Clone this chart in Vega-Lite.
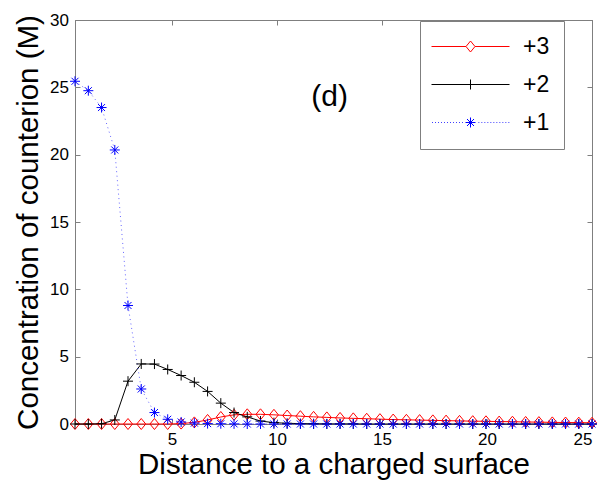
{
  "$schema": "https://vega.github.io/schema/vega-lite/v6.json",
  "width": 517,
  "height": 404,
  "autosize": {"type": "none"},
  "padding": {"left": 75, "top": 20, "right": 13, "bottom": 59},
  "background": "white",
  "config": {
    "font": "Liberation Sans",
    "view": {"stroke": "#7f7f7f"},
    "axis": {"domainColor": "#7f7f7f", "tickColor": "#7f7f7f", "grid": false, "labelColor": "black", "titleColor": "black", "labelFont": "Liberation Sans", "titleFont": "Liberation Sans", "titleFontWeight": "normal", "labelFontSize": 17, "titleFontSize": 29.5, "tickSize": -5},
    "legend": {"orient": "none", "legendX": 345, "legendY": 1, "title": null, "padding": 14, "fillColor": "white", "strokeColor": "#7f7f7f", "symbolSize": 100, "symbolStrokeWidth": 1, "symbolOpacity": 1, "labelFontSize": 23, "labelFont": "Liberation Sans", "labelColor": "black", "labelOffset": 66, "rowPadding": 14}
  },
  "data": {"values": [
    {"x":0.375,"s":"+3","v":0},{"x":1.01,"s":"+3","v":0},{"x":1.64,"s":"+3","v":0},{"x":2.27,"s":"+3","v":0},{"x":2.90,"s":"+3","v":0},{"x":3.53,"s":"+3","v":0},{"x":4.16,"s":"+3","v":0},{"x":4.79,"s":"+3","v":0},{"x":5.43,"s":"+3","v":0.03},{"x":6.06,"s":"+3","v":0.12},{"x":6.69,"s":"+3","v":0.3},{"x":7.32,"s":"+3","v":0.52},{"x":7.95,"s":"+3","v":0.68},{"x":8.58,"s":"+3","v":0.72},{"x":9.21,"s":"+3","v":0.72},{"x":9.85,"s":"+3","v":0.68},{"x":10.48,"s":"+3","v":0.63},{"x":11.11,"s":"+3","v":0.58},{"x":11.74,"s":"+3","v":0.53},{"x":12.37,"s":"+3","v":0.49},{"x":13.00,"s":"+3","v":0.45},{"x":13.63,"s":"+3","v":0.42},{"x":14.27,"s":"+3","v":0.39},{"x":14.90,"s":"+3","v":0.36},{"x":15.53,"s":"+3","v":0.33},{"x":16.16,"s":"+3","v":0.31},{"x":16.79,"s":"+3","v":0.29},{"x":17.42,"s":"+3","v":0.27},{"x":18.05,"s":"+3","v":0.25},{"x":18.69,"s":"+3","v":0.23},{"x":19.32,"s":"+3","v":0.21},{"x":19.95,"s":"+3","v":0.2},{"x":20.58,"s":"+3","v":0.18},{"x":21.21,"s":"+3","v":0.17},{"x":21.84,"s":"+3","v":0.15},{"x":22.47,"s":"+3","v":0.14},{"x":23.11,"s":"+3","v":0.12},{"x":23.74,"s":"+3","v":0.11},{"x":24.37,"s":"+3","v":0.1},{"x":25.00,"s":"+3","v":0.09},
    {"x":0.375,"s":"+2","v":0},{"x":1.01,"s":"+2","v":0},{"x":1.64,"s":"+2","v":0.02},{"x":2.27,"s":"+2","v":0.3},{"x":2.90,"s":"+2","v":3.18},{"x":3.53,"s":"+2","v":4.46},{"x":4.16,"s":"+2","v":4.45},{"x":4.79,"s":"+2","v":4.05},{"x":5.43,"s":"+2","v":3.6},{"x":6.06,"s":"+2","v":3.1},{"x":6.69,"s":"+2","v":2.42},{"x":7.32,"s":"+2","v":1.55},{"x":7.95,"s":"+2","v":0.85},{"x":8.58,"s":"+2","v":0.53},{"x":9.21,"s":"+2","v":0.22},{"x":9.85,"s":"+2","v":0.1},{"x":10.48,"s":"+2","v":0.05},{"x":11.11,"s":"+2","v":0.03},{"x":11.74,"s":"+2","v":0.02},{"x":12.37,"s":"+2","v":0.01},{"x":13.00,"s":"+2","v":0.01},{"x":13.63,"s":"+2","v":0.01},{"x":14.27,"s":"+2","v":0},{"x":14.90,"s":"+2","v":0},{"x":15.53,"s":"+2","v":0},{"x":16.16,"s":"+2","v":0},{"x":16.79,"s":"+2","v":0},{"x":17.42,"s":"+2","v":0},{"x":18.05,"s":"+2","v":0},{"x":18.69,"s":"+2","v":0},{"x":19.32,"s":"+2","v":0},{"x":19.95,"s":"+2","v":0},{"x":20.58,"s":"+2","v":0},{"x":21.21,"s":"+2","v":0},{"x":21.84,"s":"+2","v":0},{"x":22.47,"s":"+2","v":0},{"x":23.11,"s":"+2","v":0},{"x":23.74,"s":"+2","v":0},{"x":24.37,"s":"+2","v":0},{"x":25.00,"s":"+2","v":0},
    {"x":0.375,"s":"+1","v":25.45},{"x":1.01,"s":"+1","v":24.75},{"x":1.64,"s":"+1","v":23.5},{"x":2.27,"s":"+1","v":20.35},{"x":2.90,"s":"+1","v":8.8},{"x":3.53,"s":"+1","v":2.6},{"x":4.16,"s":"+1","v":0.85},{"x":4.79,"s":"+1","v":0.35},{"x":5.43,"s":"+1","v":0.15},{"x":6.06,"s":"+1","v":0.07},{"x":6.69,"s":"+1","v":0.03},{"x":7.32,"s":"+1","v":0.02},{"x":7.95,"s":"+1","v":0.01},{"x":8.58,"s":"+1","v":0},{"x":9.21,"s":"+1","v":0},{"x":9.85,"s":"+1","v":0},{"x":10.48,"s":"+1","v":0},{"x":11.11,"s":"+1","v":0},{"x":11.74,"s":"+1","v":0},{"x":12.37,"s":"+1","v":0},{"x":13.00,"s":"+1","v":0},{"x":13.63,"s":"+1","v":0},{"x":14.27,"s":"+1","v":0},{"x":14.90,"s":"+1","v":0},{"x":15.53,"s":"+1","v":0},{"x":16.16,"s":"+1","v":0},{"x":16.79,"s":"+1","v":0},{"x":17.42,"s":"+1","v":0},{"x":18.05,"s":"+1","v":0},{"x":18.69,"s":"+1","v":0},{"x":19.32,"s":"+1","v":0},{"x":19.95,"s":"+1","v":0},{"x":20.58,"s":"+1","v":0},{"x":21.21,"s":"+1","v":0},{"x":21.84,"s":"+1","v":0},{"x":22.47,"s":"+1","v":0},{"x":23.11,"s":"+1","v":0},{"x":23.74,"s":"+1","v":0},{"x":24.37,"s":"+1","v":0},{"x":25.00,"s":"+1","v":0}
  ]},
  "layer": [
    {
      "transform": [{"filter": "datum.s === '+3'"}],
      "mark": {"type": "line", "strokeWidth": 1, "color": "#ff0000"},
      "encoding": {
        "x": {"field": "x", "type": "quantitative", "scale": {"domain": [0.375, 25], "nice": false, "zero": false},
              "axis": {"orient": "bottom", "values": [5, 10, 15, 20, 25], "title": "Distance to a charged surface", "labelPadding": 12.5, "titlePadding": 3}},
        "y": {"field": "v", "type": "quantitative", "scale": {"domain": [0, 30], "nice": false},
              "axis": {"orient": "left", "values": [0, 5, 10, 15, 20, 25, 30], "title": "Concentration of counterion (M)", "labelPadding": 11.5, "titlePadding": 6}},
        "order": {"field": "x", "type": "quantitative"}
      }
    },
    {
      "transform": [{"filter": "datum.s === '+2'"}],
      "mark": {"type": "line", "strokeWidth": 1, "color": "#000000"},
      "encoding": {
        "x": {"field": "x", "type": "quantitative", "axis": null},
        "y": {"field": "v", "type": "quantitative", "axis": null},
        "order": {"field": "x", "type": "quantitative"}
      }
    },
    {
      "transform": [{"filter": "datum.s === '+1'"}],
      "mark": {"type": "line", "strokeWidth": 1, "color": "#0000ff", "strokeDash": [1, 3.5], "opacity": 0.6},
      "encoding": {
        "x": {"field": "x", "type": "quantitative", "axis": null},
        "y": {"field": "v", "type": "quantitative", "axis": null},
        "order": {"field": "x", "type": "quantitative"}
      }
    },
    {
      "transform": [{"filter": "datum.s === '+3'"}],
      "mark": {"type": "point", "filled": false, "size": 100, "strokeWidth": 1, "opacity": 1, "color": "#ff0000", "shape": "M0,-1.1L0.9,0L0,1.1L-0.9,0Z"},
      "encoding": {
        "x": {"field": "x", "type": "quantitative", "axis": null},
        "y": {"field": "v", "type": "quantitative", "axis": null}
      }
    },
    {
      "transform": [{"filter": "datum.s === '+2'"}],
      "mark": {"type": "point", "filled": false, "size": 100, "strokeWidth": 1, "opacity": 1, "color": "#000000", "shape": "M-1,0L1,0M0,-1L0,1"},
      "encoding": {
        "x": {"field": "x", "type": "quantitative", "axis": null},
        "y": {"field": "v", "type": "quantitative", "axis": null}
      }
    },
    {
      "transform": [{"filter": "datum.s === '+1'"}],
      "mark": {"type": "point", "filled": false, "size": 100, "strokeWidth": 1, "opacity": 1, "color": "#0000ff", "shape": "M-1,0L1,0M0,-1L0,1M-0.7,-0.7L0.7,0.7M-0.7,0.7L0.7,-0.7"},
      "encoding": {
        "x": {"field": "x", "type": "quantitative", "axis": null},
        "y": {"field": "v", "type": "quantitative", "axis": null}
      }
    },
    {
      "mark": {"type": "point", "filled": false, "size": 100, "strokeWidth": 1, "opacity": 0},
      "encoding": {
        "x": {"field": "x", "type": "quantitative", "axis": {"orient": "top", "values": [5, 10, 15, 20, 25], "labels": false, "title": null}},
        "y": {"field": "v", "type": "quantitative", "axis": {"orient": "right", "values": [0, 5, 10, 15, 20, 25, 30], "labels": false, "title": null}},
        "color": {"field": "s", "type": "nominal", "scale": {"domain": ["+3", "+2", "+1"], "range": ["#ff0000", "#000000", "#0000ff"]}, "legend": {"labelExpr": "datum.label + '    '"}},
        "shape": {"field": "s", "type": "nominal", "scale": {"domain": ["+3", "+2", "+1"], "range": ["M-2.8,0L4.1,0M5.9,0L12.8,0M5,-1.1L5.9,0L5,1.1L4.1,0Z", "M-2.8,0L12.8,0M5,-1L5,1", "M-2.7,0L-2.55,0M-2.1,0L-1.95,0M-1.5,0L-1.35,0M-0.9,0L-0.75,0M-0.3,0L-0.15,0M0.3,0L0.45,0M0.9,0L1.05,0M1.5,0L1.65,0M2.1,0L2.25,0M2.7,0L2.85,0M3.3,0L3.45,0M6.6,0L6.75,0M7.2,0L7.35,0M7.8,0L7.95,0M8.4,0L8.55,0M9,0L9.15,0M9.6,0L9.75,0M10.2,0L10.35,0M10.8,0L10.95,0M11.4,0L11.55,0M12,0L12.15,0M12.6,0L12.75,0M4,0L6,0M5,-1L5,1M4.3,-0.7L5.7,0.7M4.3,0.7L5.7,-0.7"]}, "legend": {"labelExpr": "datum.label + '    '"}}
      }
    },
    {
      "data": {"values": [{"label": "(d)"}]},
      "mark": {"type": "text", "fontSize": 30, "font": "Liberation Sans", "baseline": "middle", "align": "center", "color": "black"},
      "encoding": {
        "x": {"datum": 12.5, "type": "quantitative", "axis": null},
        "y": {"datum": 24.3, "type": "quantitative", "axis": null},
        "text": {"field": "label", "type": "nominal"}
      }
    }
  ],
  "resolve": {"axis": {"x": "independent", "y": "independent"}}
}
